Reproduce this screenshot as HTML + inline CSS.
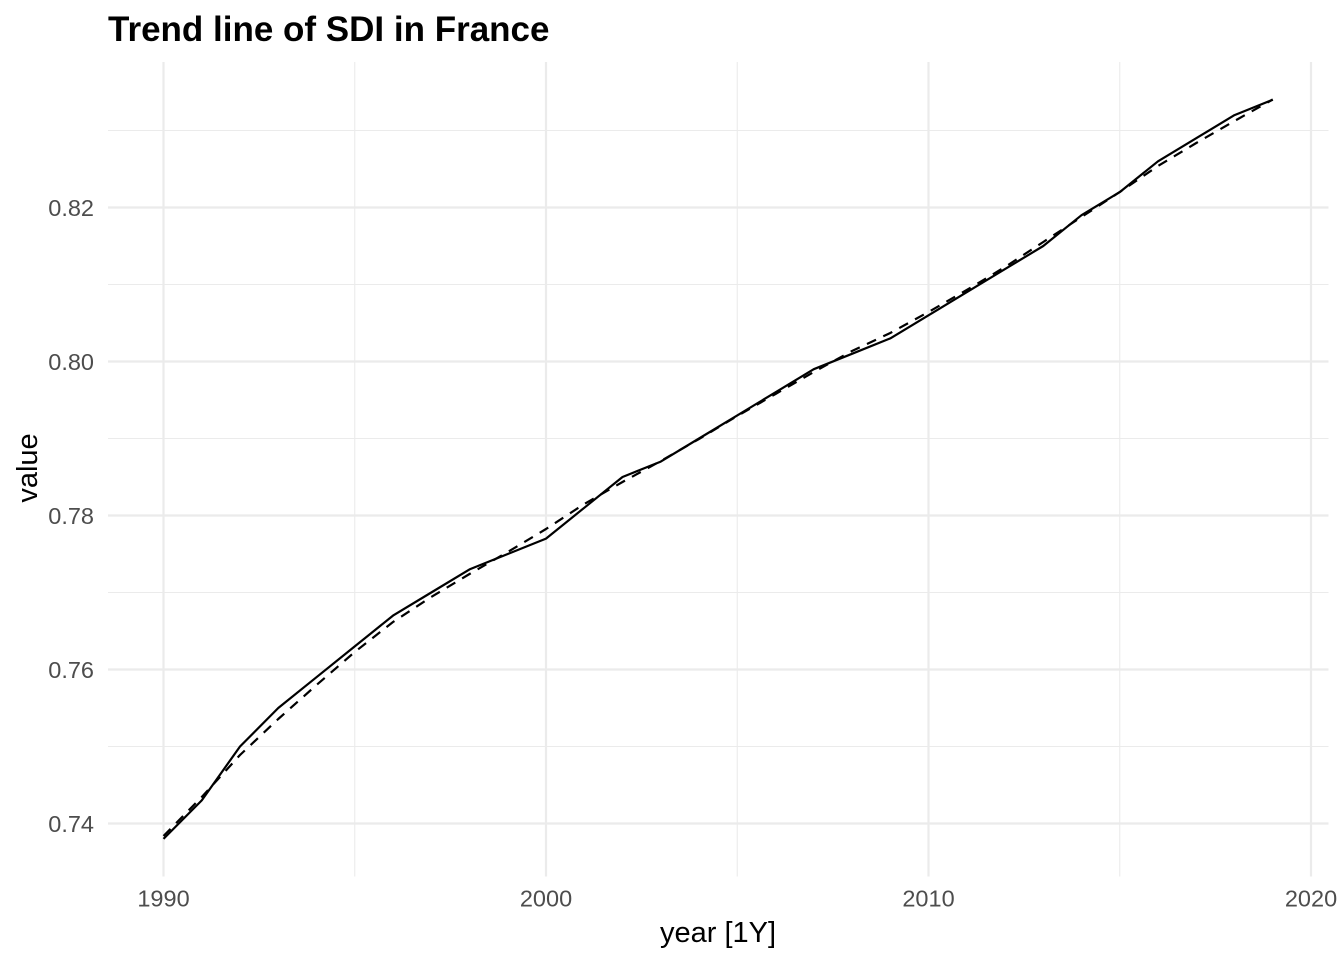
<!DOCTYPE html>
<html>
<head>
<meta charset="utf-8">
<style>
  html, body { margin: 0; padding: 0; background: #ffffff; }
  svg { display: block; }
  text { font-family: "Liberation Sans", Arial, Helvetica, sans-serif; }
</style>
</head>
<body>
<svg width="1344" height="960" viewBox="0 0 1344 960" xmlns="http://www.w3.org/2000/svg">
  <rect x="0" y="0" width="1344" height="960" fill="#ffffff"/>

  <!-- minor gridlines -->
  <g stroke="#ebebeb" stroke-width="1.1" fill="none">
    <line x1="108" x2="1328.5" y1="746.5" y2="746.5"/>
    <line x1="108" x2="1328.5" y1="592.5" y2="592.5"/>
    <line x1="108" x2="1328.5" y1="438.5" y2="438.5"/>
    <line x1="108" x2="1328.5" y1="284.5" y2="284.5"/>
    <line x1="108" x2="1328.5" y1="130.5" y2="130.5"/>
    <line x1="354.75" x2="354.75" y1="62" y2="876.5"/>
    <line x1="737.25" x2="737.25" y1="62" y2="876.5"/>
    <line x1="1119.75" x2="1119.75" y1="62" y2="876.5"/>
  </g>
  <!-- major gridlines -->
  <g stroke="#ebebeb" stroke-width="2.2" fill="none">
    <line x1="108" x2="1328.5" y1="823.5" y2="823.5"/>
    <line x1="108" x2="1328.5" y1="669.5" y2="669.5"/>
    <line x1="108" x2="1328.5" y1="515.5" y2="515.5"/>
    <line x1="108" x2="1328.5" y1="361.5" y2="361.5"/>
    <line x1="108" x2="1328.5" y1="207.5" y2="207.5"/>
    <line x1="163.5" x2="163.5" y1="62" y2="876.5"/>
    <line x1="546" x2="546" y1="62" y2="876.5"/>
    <line x1="928.5" x2="928.5" y1="62" y2="876.5"/>
    <line x1="1311" x2="1311" y1="62" y2="876.5"/>
  </g>

  <!-- solid data line -->
  <polyline fill="none" stroke="#000000" stroke-width="2.2" stroke-linejoin="round"
    points="163.5,838.9 201.75,800.4 240,746.5 278.25,708 316.5,677.2 354.75,646.4 393,615.6 431.25,592.5 469.5,569.4 507.75,554 546,538.6 584.25,507.8 622.5,477 660.75,461.6 699,438.5 737.25,415.4 775.5,392.3 813.75,369.2 852,353.8 890.25,338.4 928.5,315.3 966.75,292.2 1005,269.1 1043.25,246 1081.5,215.2 1119.75,192.1 1158,161.3 1196.25,138.2 1234.5,115.1 1272.75,99.7"/>

  <!-- dashed trend line -->
  <polyline fill="none" stroke="#000000" stroke-width="2.2" stroke-dasharray="10 8" stroke-linejoin="round"
    points="163.5,836 201.75,797 240,755 278.25,719 316.5,685 354.75,652 393,622 431.25,597 469.5,574 507.75,552 546,529 584.25,504 622.5,482 660.75,461 699,439 737.25,416 775.5,394 813.75,372 852,351 890.25,333 928.5,312 966.75,290 1005,267 1043.25,242 1081.5,217 1119.75,192 1158,166 1196.25,143 1234.5,121 1272.75,99.5"/>

  <!-- y tick labels -->
  <g fill="#4d4d4d" font-size="23.5" text-anchor="end">
    <text x="94" y="831.9">0.74</text>
    <text x="94" y="677.9">0.76</text>
    <text x="94" y="523.9">0.78</text>
    <text x="94" y="369.9">0.80</text>
    <text x="94" y="215.9">0.82</text>
  </g>

  <!-- x tick labels -->
  <g fill="#4d4d4d" font-size="23.5" text-anchor="middle">
    <text x="163.5" y="906.5">1990</text>
    <text x="546" y="906.5">2000</text>
    <text x="928.5" y="906.5">2010</text>
    <text x="1311" y="906.5">2020</text>
  </g>

  <!-- axis titles -->
  <text x="718" y="942" font-size="29" fill="#000000" text-anchor="middle">year [1Y]</text>
  <text transform="translate(37,468) rotate(-90)" font-size="29" fill="#000000" text-anchor="middle">value</text>

  <!-- title -->
  <text x="108" y="41" font-size="35" font-weight="bold" fill="#000000">Trend line of SDI in France</text>
</svg>
</body>
</html>
